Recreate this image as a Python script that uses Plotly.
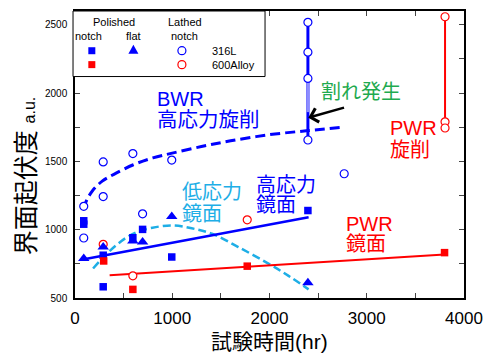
import plotly.graph_objects as go

# ---- data ----
t_sq_316 = [90, 90, 290, 290, 595, 695, 995, 2395]
v_sq_316 = [1065, 1040, 813, 582, 941, 1002, 800, 1140]

t_tri_316 = [90, 290, 595, 695, 995, 2395]
v_tri_316 = [789, 873, 917, 909, 1096, 611]

t_circ_316 = [90, 90, 290, 290, 595, 695, 995, 2768, 2395, 2395, 2395, 2395]
v_circ_316 = [1171, 939, 1496, 1242, 1557, 1116, 1509, 1409, 2517, 2299, 2107, 1656]

t_sq_600 = [295, 595, 1771, 3800]
v_sq_600 = [771, 563, 733, 832]

t_circ_600 = [290, 595, 1771, 3805, 3805, 3805]
v_circ_600 = [893, 662, 1072, 2558, 1789, 1744]

# fitted / guide lines
t_hs_pol = [92, 2402]          # high-stress polished (blue solid)
v_hs_pol = [784, 1091]
t_pwr_pol = [356, 3800]        # PWR polished (red solid)
v_pwr_pol = [667, 818]
t_ls_pol = [186, 350, 526, 650, 797, 1000, 1200, 1408, 1679, 2018, 2200, 2402]  # low-stress (cyan dash)
v_ls_pol = [716, 840, 941, 985, 1014, 1031, 1010, 970, 873, 740, 660, 563]
t_bwr = [83, 120, 180, 280, 400, 600, 800, 1000, 1300, 1600, 2000, 2400, 2750]   # BWR lathed (blue dash)
v_bwr = [1150, 1215, 1285, 1355, 1405, 1475, 1525, 1560, 1608, 1650, 1695, 1725, 1750]
t_crack = [2395, 2395]
v_crack = [1656, 2517]
t_crack_light = [2395, 2395]
v_crack_light = [1860, 2107]
t_pwr_lat = [3805, 3805]
v_pwr_lat = [1789, 2558]

BLUE = "#0000ff"
RED = "#ff0000"
CYAN = "#1eaee6"
GREEN = "#1faa4f"
FONT = "Liberation Sans, Arial, Noto Sans CJK JP"

fig = go.Figure()

def line(x, y, color, width, dash="solid"):
    fig.add_trace(go.Scatter(x=x, y=y, mode="lines", line=dict(color=color, width=width, dash=dash, shape="spline" if len(x) > 2 else "linear"), showlegend=False, hoverinfo="skip"))

line(t_bwr, v_bwr, BLUE, 3, "10px,5px")
line(t_ls_pol, v_ls_pol, CYAN, 2.5, "8px,4px")
line(t_hs_pol, v_hs_pol, BLUE, 2.5)
line(t_pwr_pol, v_pwr_pol, RED, 2)
line(t_crack, v_crack, BLUE, 3)
line(t_crack_light, v_crack_light, "#8c8cff", 3)
line(t_pwr_lat, v_pwr_lat, RED, 2)

def pts(x, y, symbol, color, size, filled=True):
    if filled:
        m = dict(symbol=symbol, color=color, size=size, line=dict(width=0))
    else:
        m = dict(symbol=symbol, color="white", size=size, line=dict(color=color, width=1.2))
    fig.add_trace(go.Scatter(x=x, y=y, mode="markers", marker=m, showlegend=False, hoverinfo="skip"))

pts(t_circ_316, v_circ_316, "circle", BLUE, 8, False)
pts(t_circ_600, v_circ_600, "circle", RED, 8, False)
pts(t_sq_316, v_sq_316, "square", BLUE, 7.5)
pts(t_sq_600, v_sq_600, "square", RED, 7.5)
pts(t_tri_316, v_tri_316, "triangle-up", BLUE, 10)

# ---- layout helpers (pixel -> paper) ----
L, R, T, B = 75, 468, 9, 298
def px(p):
    return (p - L) / (R - L)
def py(p):
    return (B - p) / (B - T)

ann = []
def txt(text, x, y, color, size, xanchor="left", yanchor="middle", angle=0):
    ann.append(dict(text=text, x=px(x), y=py(y), xref="paper", yref="paper", showarrow=False,
                    xanchor=xanchor, yanchor=yanchor, textangle=angle,
                    font=dict(family=FONT, size=size, color=color)))

# chart labels
txt("BWR", 156, 98, BLUE, 20)
txt("高応力旋削", 156, 118, BLUE, 20.5)
txt("割れ発生", 322, 91, GREEN, 20)
txt("PWR", 391, 127, RED, 20)
txt("旋削", 391, 149, RED, 20)
txt("低応力", 181, 191, CYAN, 20)
txt("鏡面", 181, 213, CYAN, 20)
txt("高応力", 256, 184, BLUE, 20)
txt("鏡面", 256, 204, BLUE, 20)
txt("PWR", 347, 223, RED, 20)
txt("鏡面", 347, 244, RED, 20)

# legend texts
txt("Polished", 114, 20, "black", 11, "center")
txt("Lathed", 186, 20, "black", 11, "center")
txt("notch", 89, 34, "black", 11, "center")
txt("flat", 134, 34, "black", 11, "center")
txt("notch", 186, 34, "black", 11, "center")
txt("316L", 211, 49, "black", 11)
txt("600Alloy", 211, 63, "black", 11)

# axis titles
txt("界面起伏度 <span style='font-size:16px'>a.u.</span>", 25, 175, "black", 25, "center", "middle", -90)
txt("試験時間(hr)", 272, 342, "black", 21, "center")

# arrow
ann.append(dict(x=2399, y=1819, ax=2782, ay=1896, xref="x", yref="y", axref="x", ayref="y",
                text="", showarrow=True, arrowhead=4, arrowsize=1.1, arrowwidth=2.5, arrowcolor="black"))

shapes = []
# legend box
shapes.append(dict(type="rect", xref="paper", yref="paper", x0=px(73), x1=px(267), y0=py(75), y1=py(9),
                   line=dict(color="black", width=1), fillcolor="white", layer="above"))
def mk_rect(x, y, color):
    shapes.append(dict(type="rect", xref="paper", yref="paper", xsizemode="pixel", ysizemode="pixel",
                       xanchor=px(x), yanchor=py(y), x0=-3.5, x1=3.5, y0=-3.5, y1=3.5,
                       fillcolor=color, line=dict(width=0), layer="above"))
def mk_circ(x, y, color):
    shapes.append(dict(type="circle", xref="paper", yref="paper", xsizemode="pixel", ysizemode="pixel",
                       xanchor=px(x), yanchor=py(y), x0=-4, x1=4, y0=-4, y1=4,
                       fillcolor="white", line=dict(width=1.2, color=color), layer="above"))
def mk_tri(x, y, color):
    shapes.append(dict(type="path", xref="paper", yref="paper", xsizemode="pixel", ysizemode="pixel",
                       xanchor=px(x), yanchor=py(y), path="M-5,-4 L5,-4 L0,5 Z",
                       fillcolor=color, line=dict(width=0), layer="above"))
mk_rect(92, 49, BLUE)
mk_tri(134, 48, BLUE)
mk_circ(183, 49, BLUE)
mk_rect(92, 63, RED)
mk_circ(183, 63, RED)

fig.update_layout(
    width=492, height=356,
    margin=dict(l=L, r=492 - R, t=T, b=356 - B),
    paper_bgcolor="white", plot_bgcolor="white",
    font=dict(family=FONT, color="black"),
    annotations=ann, shapes=shapes,
    xaxis=dict(range=[0, 4000], tickvals=[0, 1000, 2000, 3000, 4000], ticks="inside", ticklen=5,
               tickwidth=1, minor=dict(tickvals=[500, 1500, 2500, 3500], ticks="inside", ticklen=5),
               showline=True, linecolor="black", linewidth=1.5, mirror="ticks", showgrid=False,
               zeroline=False, tickfont=dict(size=17, family=FONT), ticklabelstandoff=4),
    yaxis=dict(range=[500, 2600], tickvals=[500, 1000, 1500, 2000, 2500], ticks="inside", ticklen=5,
               tickwidth=1, minor=dict(dtick=250, ticks="inside", ticklen=5),
               showline=True, linecolor="black", linewidth=1.5, mirror="ticks", showgrid=False,
               zeroline=False, tickfont=dict(size=10, family=FONT), ticklabelstandoff=4),
)

fig.write_html("out.html")
